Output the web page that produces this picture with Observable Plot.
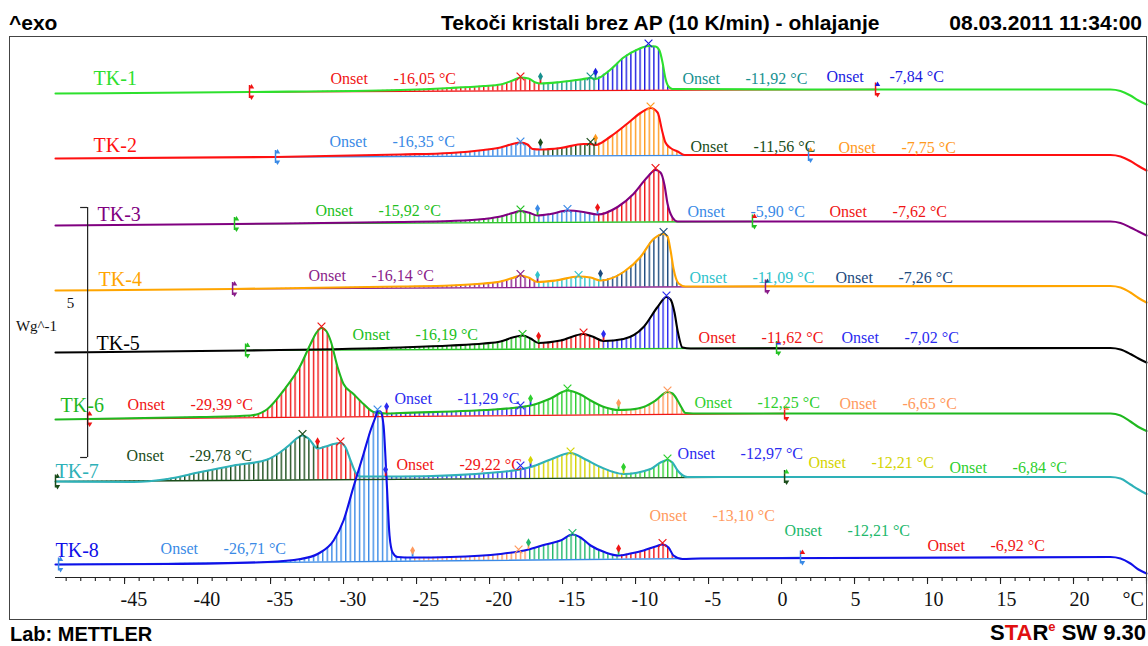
<!DOCTYPE html>
<html><head><meta charset="utf-8">
<script src="https://cdn.jsdelivr.net/npm/d3@7"></script>
<script src="https://cdn.jsdelivr.net/npm/@observablehq/plot@0.6"></script>
<style>
html,body{margin:0;padding:0;background:#fff;}
body{width:1148px;height:646px;position:relative;overflow:hidden;font-family:"Liberation Sans",Arial,sans-serif;}
.hdr{position:absolute;font-weight:bold;font-size:21px;line-height:21px;color:#000;white-space:nowrap;}
#frame{position:absolute;left:9px;top:36px;width:1138px;height:584px;border:1.5px solid #444;box-sizing:border-box;pointer-events:none;}
#chart{position:absolute;left:0;top:36px;}
</style></head><body>
<div class="hdr" style="left:9px;top:12px">^exo</div>
<div class="hdr" style="left:441px;top:12px">Tekoči kristali brez AP (10 K/min) - ohlajanje</div>
<div class="hdr" style="right:6px;top:12px">08.03.2011 11:34:00</div>
<div id="chart"></div>
<div id="frame"></div>
<div class="hdr" style="left:10px;top:624px;font-size:20px;line-height:20px">Lab: METTLER</div>
<div class="hdr" style="right:2px;top:622px;font-size:22px;line-height:22px">S<span style="color:#e01010">TA</span>R<span style="color:#e01010;font-size:13px;position:relative;top:-9px">e</span> SW 9.30</div>
<script>
// ---------- DATA: temperature (°C) and heat flow (W/g, stacked with display offset) ----------
const curveNames = ["TK-1","TK-2","TK-3","TK-4","TK-5","TK-6","TK-7","TK-8"];

const tk1T = [-49.73,-36.44,-26.10,-22.67,-20.41,-19.25,-18.42,-17.88,-17.33,-16.85,-16.51,-15.14,-13.77,-13.08,-12.74,-11.71,-10.82,-9.86,-9.11,-8.63,-8.36,-8.15,-7.95,-7.74,-7.47,1.30,15.00,22.53,23.22,23.90,24.45,25.00];
const tk1V = [9.68,9.71,9.75,9.79,9.83,9.86,9.94,10.00,9.98,9.90,9.88,9.91,9.96,9.99,9.97,10.16,10.40,10.56,10.63,10.62,10.54,10.30,9.98,9.82,9.77,9.76,9.76,9.76,9.73,9.64,9.54,9.46];

const tk2T = [-49.73,-34.66,-26.10,-22.67,-20.41,-19.25,-18.42,-17.88,-17.40,-17.05,-16.51,-15.14,-13.56,-13.08,-12.74,-11.71,-10.55,-9.66,-8.97,-8.49,-8.15,-7.95,-7.60,-7.12,-6.64,-5.55,22.53,23.22,23.90,24.45,25.00];
const tk2V = [8.38,8.41,8.46,8.49,8.55,8.60,8.67,8.70,8.66,8.57,8.56,8.59,8.67,8.67,8.65,8.82,9.08,9.29,9.39,9.30,8.90,8.70,8.59,8.52,8.45,8.45,8.45,8.42,8.33,8.23,8.14];

const tk3T = [-49.73,-37.47,-26.10,-22.67,-20.41,-19.25,-18.42,-17.88,-17.33,-16.71,-15.82,-14.66,-13.56,-12.60,-11.23,-10.14,-9.18,-8.63,-8.29,-8.01,-7.81,-7.47,-7.12,-6.23,22.53,23.22,23.90,24.45,25.00];
const tk3V = [7.04,7.07,7.11,7.13,7.17,7.22,7.29,7.33,7.30,7.24,7.27,7.34,7.31,7.26,7.41,7.67,8.01,8.15,8.10,7.84,7.48,7.20,7.12,7.12,7.12,7.09,7.00,6.92,6.84];

const tk4T = [-49.73,-37.60,-26.10,-22.67,-20.41,-19.25,-18.42,-17.88,-17.33,-16.71,-15.48,-13.90,-13.08,-12.40,-10.82,-9.66,-8.77,-8.08,-7.81,-7.60,-7.40,-7.05,-6.58,-5.55,22.53,23.22,23.90,24.45,25.00];
const tk4V = [5.74,5.77,5.82,5.84,5.88,5.92,5.99,6.04,6.00,5.91,5.94,6.02,6.00,5.94,6.11,6.41,6.77,6.87,6.82,6.54,6.18,5.88,5.82,5.82,5.83,5.80,5.70,5.59,5.50];

const tk5T = [-49.73,-36.71,-26.10,-22.67,-20.41,-19.25,-18.42,-17.74,-17.19,-16.64,-15.14,-13.56,-12.95,-12.19,-10.82,-9.45,-8.49,-7.88,-7.60,-7.33,-7.12,-6.78,-6.23,22.53,23.22,23.90,24.45,25.00];
const tk5V = [4.50,4.54,4.60,4.64,4.68,4.72,4.80,4.84,4.78,4.69,4.74,4.87,4.82,4.73,4.77,5.01,5.41,5.61,5.56,5.30,4.94,4.60,4.58,4.59,4.56,4.47,4.38,4.30];

const tk6T = [-49.73,-47.53,-39.79,-36.37,-35.21,-34.11,-32.95,-32.26,-31.85,-31.51,-31.16,-30.89,-30.41,-30.00,-29.32,-28.63,-27.95,-27.05,-26.10,-19.25,-17.19,-15.82,-14.66,-13.77,-13.08,-12.05,-11.16,-10.34,-9.45,-8.63,-7.81,-7.47,-7.12,-6.85,-6.58,-5.55,22.53,23.22,23.90,24.45,25.00];
const tk6V = [3.16,3.17,3.21,3.24,3.37,3.74,4.24,4.67,4.90,4.99,4.92,4.74,4.21,3.87,3.67,3.47,3.31,3.28,3.29,3.37,3.44,3.58,3.74,3.66,3.54,3.40,3.35,3.36,3.41,3.54,3.71,3.68,3.54,3.40,3.29,3.28,3.28,3.24,3.12,3.01,2.93];

const tk7T = [-49.73,-44.38,-42.05,-39.79,-37.53,-35.21,-34.32,-33.63,-33.22,-32.81,-32.40,-31.78,-31.23,-30.68,-30.21,-29.86,-29.52,-29.18,-28.84,-27.95,-27.12,-26.10,-19.25,-17.19,-15.82,-14.45,-13.42,-12.40,-10.82,-8.97,-8.29,-7.81,-7.47,-7.12,-6.44,-5.55,22.53,23.22,23.90,24.45,25.00];
const tk7V = [1.92,1.91,1.97,2.11,2.24,2.36,2.51,2.67,2.78,2.84,2.78,2.58,2.62,2.67,2.69,2.60,2.34,2.10,2.02,2.02,2.02,2.02,2.11,2.21,2.36,2.49,2.36,2.21,2.07,2.17,2.30,2.35,2.30,2.14,2.01,2.01,2.01,1.98,1.86,1.76,1.67];

const tk8T = [-49.73,-49.52,-42.05,-35.21,-32.95,-31.78,-30.68,-30.00,-29.32,-28.63,-28.15,-27.81,-27.67,-27.47,-27.26,-27.05,-26.85,-26.64,-26.30,-25.27,-22.67,-19.25,-17.33,-16.16,-15.14,-14.32,-13.77,-13.08,-12.05,-11.16,-10.34,-9.45,-8.63,-8.15,-7.74,-7.40,-6.78,-5.55,22.53,23.22,23.90,24.45,25.00];
const tk8V = [0.26,0.26,0.27,0.31,0.37,0.47,0.74,1.14,1.81,2.47,2.94,3.21,3.33,3.32,3.04,1.94,0.84,0.50,0.41,0.40,0.41,0.47,0.56,0.66,0.74,0.86,0.80,0.64,0.50,0.44,0.48,0.54,0.62,0.66,0.60,0.44,0.37,0.38,0.41,0.38,0.28,0.16,0.08];

// integration segment boundaries (°C)
const tk1Bounds = [-36.44,-16.51,-12.74,-7.47];
const tk2Bounds = [-34.66,-16.51,-12.74,-6.64];
const tk3Bounds = [-37.47,-16.71,-12.60,-7.12];
const tk4Bounds = [-37.60,-16.71,-12.40,-7.05];
const tk5Bounds = [-36.71,-16.64,-12.19,-6.78];
const tk6Bounds = [-47.53,-27.05,-17.19,-11.16,-6.58];
const tk7Bounds = [-49.73,-31.78,-27.12,-17.19,-10.82,-6.44];
const tk8Bounds = [-49.52,-25.27,-17.33,-11.16,-6.78];

// integration baseline limits (°C, W/g)
const tk1LimT = [-36.44,6.44],  tk1LimV = [9.71,9.76];
const tk2LimT = [-34.66,1.85],  tk2LimV = [8.41,8.45];
const tk3LimT = [-37.47,-1.99], tk3LimV = [7.07,7.12];
const tk4LimT = [-37.60,-1.10], tk4LimV = [5.77,5.82];
const tk5LimT = [-36.71,-0.34], tk5LimV = [4.54,4.59];
const tk6LimT = [-47.53,0.21],  tk6LimV = [3.17,3.28];
const tk7LimT = [-49.73,0.21],  tk7LimV = [1.92,2.01];
const tk8LimT = [-49.52,1.30],  tk8LimV = [0.26,0.40];

// peak maxima
const tk1PeakT = [-17.88,-13.08,-9.11], tk1PeakV = [10.00,10.00,10.66];
const tk2PeakT = [-17.88,-13.08,-8.97], tk2PeakV = [8.70,8.69,9.40];
const tk3PeakT = [-17.88,-14.66,-8.63], tk3PeakV = [7.34,7.35,8.17];
const tk4PeakT = [-17.88,-13.90,-8.08], tk4PeakV = [6.05,6.03,6.89];
const tk5PeakT = [-17.74,-13.56,-7.88], tk5PeakV = [4.85,4.88,5.62];
const tk6PeakT = [-31.51,-17.88,-14.66,-7.81], tk6PeakV = [5.00,3.42,3.76,3.72];
const tk7PeakT = [-32.81,-30.21,-17.88,-14.45,-7.81], tk7PeakV = [2.85,2.70,2.22,2.50,2.36];
const tk8PeakT = [-27.67,-18.01,-14.32,-8.15], tk8PeakV = [3.34,0.54,0.87,0.67];

// onset results
const tk1Onsets = ["-16,05 °C","-11,92 °C","-7,84 °C"];
const tk2Onsets = ["-16,35 °C","-11,56 °C","-7,75 °C"];
const tk3Onsets = ["-15,92 °C","-5,90 °C","-7,62 °C"];
const tk4Onsets = ["-16,14 °C","-11,09 °C","-7,26 °C"];
const tk5Onsets = ["-16,19 °C","-11,62 °C","-7,02 °C"];
const tk6Onsets = ["-29,39 °C","-11,29 °C","-12,25 °C","-6,65 °C"];
const tk7Onsets = ["-29,78 °C","-29,22 °C","-12,97 °C","-12,21 °C","-6,84 °C"];
const tk8Onsets = ["-26,71 °C","-13,10 °C","-12,21 °C","-6,92 °C"];

// axis ticks
const majorTicks = [-45,-40,-35,-30,-25,-20,-15,-10,-5,0,5,10,15,20];
const minorTicks = d3.range(-49, 26);
const scaleBarValue = 5; // W/g

// ---------- STYLE / LAYOUT ----------
const C = {red:"#f01414", teal:"#17908f", blue:"#1a1ae0", lblue:"#3a8ae6", dgreen:"#1b4d1b", orange:"#ff9a1e",
  green:"#22c022", purple:"#8a1d8a", cyan:"#2fc3cb", navy:"#1d4a7e", blue2:"#2b2bf0", lorange:"#ff9a5e",
  yellow:"#d4d400", green2:"#21b86b", green3:"#2ecf2e"};
const curveColors = ["#2de02d","#ff1010","#800080","#ffa500","#000000","#1fb81f","#2eb1b8","#1010e8"];
const segColors = [
  [C.red,C.teal,C.blue],
  [C.lblue,C.dgreen,C.orange],
  [C.green,C.lblue,C.red],
  [C.purple,C.cyan,C.navy],
  [C.green,C.red,C.blue2],
  [C.red,C.blue2,C.green3,C.lorange],
  [C.dgreen,C.red,C.blue2,C.yellow,C.green3],
  [C.lblue,C.lorange,C.green2,C.red]
];
const labelPos = [[-47.12,9.98],[-47.12,8.64],[-46.85,7.26],[-46.78,5.96],[-46.92,4.68],[-49.38,3.44],[-49.73,2.12],[-49.73,0.54]];
const onsetPos = [
  [[-30.89,9.98],[-6.78,9.98],[3.08,10.02]],
  [[-30.96,8.72],[-6.23,8.62],[3.90,8.60]],
  [[-31.92,7.34],[-6.44,7.32],[3.29,7.32]],
  [[-32.40,6.04],[-6.30,6.00],[3.70,6.00]],
  [[-29.38,4.86],[-5.68,4.80],[4.11,4.80]],
  [[-44.79,3.46],[-26.51,3.58],[-5.96,3.50],[3.97,3.48]],
  [[-44.86,2.44],[-26.37,2.26],[-7.12,2.48],[1.85,2.30],[11.51,2.20]],
  [[-42.53,0.58],[-9.04,1.24],[0.21,0.94],[10.0,0.64]]
];
const scaleBarT = -47.53, scaleBarLow = 2.40;

// ---------- BUILD ----------
const series = [
  {T:tk1T,V:tk1V,bounds:tk1Bounds,limT:tk1LimT,limV:tk1LimV,peakT:tk1PeakT,peakV:tk1PeakV,onsets:tk1Onsets},
  {T:tk2T,V:tk2V,bounds:tk2Bounds,limT:tk2LimT,limV:tk2LimV,peakT:tk2PeakT,peakV:tk2PeakV,onsets:tk2Onsets},
  {T:tk3T,V:tk3V,bounds:tk3Bounds,limT:tk3LimT,limV:tk3LimV,peakT:tk3PeakT,peakV:tk3PeakV,onsets:tk3Onsets},
  {T:tk4T,V:tk4V,bounds:tk4Bounds,limT:tk4LimT,limV:tk4LimV,peakT:tk4PeakT,peakV:tk4PeakV,onsets:tk4Onsets},
  {T:tk5T,V:tk5V,bounds:tk5Bounds,limT:tk5LimT,limV:tk5LimV,peakT:tk5PeakT,peakV:tk5PeakV,onsets:tk5Onsets},
  {T:tk6T,V:tk6V,bounds:tk6Bounds,limT:tk6LimT,limV:tk6LimV,peakT:tk6PeakT,peakV:tk6PeakV,onsets:tk6Onsets},
  {T:tk7T,V:tk7V,bounds:tk7Bounds,limT:tk7LimT,limV:tk7LimV,peakT:tk7PeakT,peakV:tk7PeakV,onsets:tk7Onsets},
  {T:tk8T,V:tk8V,bounds:tk8Bounds,limT:tk8LimT,limV:tk8LimV,peakT:tk8PeakT,peakV:tk8PeakV,onsets:tk8Onsets}
];
const hid = c => "h" + c.slice(1);
const usedColors = new Set();
const hatchMarks = [], baseMarks = [], lineMarks = [], deco = [], texts = [];
const nearest = (pts, t) => pts.reduce((a, b) => Math.abs(b.T - t) < Math.abs(a.T - t) ? b : a);
const serif = "Liberation Serif, Times New Roman, serif";

series.forEach((s, i) => {
  const pts = s.T.map((t, j) => ({T: t, V: s.V[j]}));
  const [t0, t1] = s.limT, [v0, v1] = s.limV;
  const base = t => v0 + (v1 - v0) * (t - t0) / (t1 - t0);
  const segs = segColors[i];
  for (let k = 0; k < s.bounds.length - 1; k++) {
    const lo = s.bounds[k], hi = s.bounds[k + 1];
    const sp = pts.filter(p => p.T >= lo - 1e-6 && p.T <= hi + 1e-6).map(p => ({...p, B: base(p.T)}));
    usedColors.add(segs[k]);
    hatchMarks.push(Plot.areaY(sp, {x: "T", y1: "B", y2: "V", fill: `url(#${hid(segs[k])})`, curve: "monotone-x"}));
  }
  baseMarks.push(Plot.line([{T: t0, V: v0}, {T: t1, V: v1}], {x: "T", y: "V", stroke: segs[0], strokeWidth: 1.3}));
  lineMarks.push(Plot.line(pts, {x: "T", y: "V", stroke: curveColors[i], strokeWidth: 2.1, curve: "monotone-x"}));

  // segment boundary pins
  const pins = s.bounds.slice(1, -1).map((b, k) => { const p = nearest(pts, b); return {T: p.T, V: p.V, c1: segs[k], c2: segs[k + 1]}; });
  deco.push(Plot.ruleX(pins, {x: "T", y1: "V", y2: d => d.V + 0.13, stroke: "c1", strokeWidth: 1.8}));
  deco.push(Plot.dot(pins, {x: "T", y: d => d.V + 0.14, symbol: "diamond", r: 2.6, fill: "c2", stroke: "none"}));

  // integration limit markers
  const lims = [{T: t0, V: v0, ct: segs[0], cb: segs[0]}, {T: t1, V: v1, ct: segs[segs.length - 1], cb: segs[0]}];
  deco.push(Plot.ruleX(lims, {x: "T", y1: d => d.V - 0.13, y2: d => d.V + 0.13, stroke: "cb", strokeWidth: 1.5}));
  deco.push(Plot.dot(lims, {x: "T", y: d => d.V + 0.1, symbol: "triangle", r: 2, fill: "ct", stroke: "none", dx: 2}));
  deco.push(Plot.dot(lims, {x: "T", y: d => d.V - 0.1, symbol: "triangle", r: 2, fill: "cb", stroke: "none", dx: 2, rotate: 180}));

  // peak markers
  const segIdx = t => { for (let k = 0; k < s.bounds.length - 1; k++) if (t >= s.bounds[k] && t < s.bounds[k + 1]) return k; return 0; };
  const peaks = s.peakT.map((t, j) => ({T: t, V: s.peakV[j], c: segs[segIdx(t)]}));
  deco.push(Plot.dot(peaks, {x: "T", y: "V", symbol: "times", r: 3.6, stroke: "c", strokeWidth: 1.2, dy: -1}));

  // labels
  texts.push(Plot.text([{T: labelPos[i][0], V: labelPos[i][1], t: curveNames[i]}], {x: "T", y: "V", text: "t", fill: curveColors[i], textAnchor: "start", lineAnchor: "middle", fontSize: 20, fontFamily: serif}));
  const ons = s.onsets.map((v, k) => ({T: onsetPos[i][k][0], V: onsetPos[i][k][1], val: v, c: segs[k]}));
  texts.push(Plot.text(ons, {x: "T", y: "V", text: () => "Onset", fill: "c", textAnchor: "start", lineAnchor: "middle", fontSize: 16, fontFamily: serif}));
  texts.push(Plot.text(ons, {x: "T", y: "V", text: "val", fill: "c", textAnchor: "start", lineAnchor: "middle", fontSize: 16, fontFamily: serif, dx: 63}));
});

const axisMarks = [
  Plot.ruleY([0], {stroke: "#222", strokeWidth: 1.2}),
  Plot.ruleX(minorTicks, {x: d => d, y1: 0, y2: -0.08, stroke: "#222", strokeWidth: 1.1}),
  Plot.ruleX(majorTicks.concat([25]), {x: d => d, y1: 0, y2: -0.14, stroke: "#222", strokeWidth: 1.1}),
  Plot.text(majorTicks, {x: d => d, y: -0.44, text: d => String(d), textAnchor: "start", dx: -4, lineAnchor: "middle", fontSize: 20, fontFamily: serif, fill: "#111"}),
  Plot.text(["°C"], {x: 23.36, y: -0.44, text: d => d, textAnchor: "start", lineAnchor: "middle", fontSize: 20, fontFamily: serif, fill: "#111"}),
  // y scale bar
  Plot.ruleX([scaleBarT], {x: d => d, y1: scaleBarLow, y2: scaleBarLow + scaleBarValue, stroke: "#222", strokeWidth: 1.2}),
  Plot.ruleY([scaleBarLow, scaleBarLow + scaleBarValue], {y: d => d, x1: scaleBarT - 0.48, x2: scaleBarT, stroke: "#222", strokeWidth: 1.2}),
  Plot.text([String(scaleBarValue)], {x: -48.70, y: 5.48, text: d => d, fontSize: 15, fontFamily: serif, fill: "#111"}),
  Plot.text(["Wg^-1"], {x: -51.03, y: 5.02, text: d => d, fontSize: 15, fontFamily: serif, fill: "#111"})
];

const chart = Plot.plot({
  width: 1148, height: 584,
  marginLeft: 55, marginRight: 2, marginTop: 0, marginBottom: 43,
  x: {domain: [-49.73, 25], axis: null},
  y: {domain: [0, 10.82], axis: null},
  color: {type: "identity"},
  style: {fontFamily: serif, overflow: "visible", background: "transparent"},
  marks: [...hatchMarks, ...baseMarks, ...lineMarks, ...deco, ...axisMarks, ...texts]
});

const ns = "http://www.w3.org/2000/svg";
const defs = document.createElementNS(ns, "defs");
for (const c of usedColors) {
  const p = document.createElementNS(ns, "pattern");
  p.setAttribute("id", hid(c));
  p.setAttribute("patternUnits", "userSpaceOnUse");
  p.setAttribute("width", "4.6");
  p.setAttribute("height", "20");
  const r = document.createElementNS(ns, "rect");
  r.setAttribute("x", "0"); r.setAttribute("y", "0");
  r.setAttribute("width", "1.4"); r.setAttribute("height", "20");
  r.setAttribute("fill", c);
  p.appendChild(r);
  defs.appendChild(p);
}
chart.insertBefore(defs, chart.firstChild);
document.getElementById("chart").appendChild(chart);
</script>
</body></html>
